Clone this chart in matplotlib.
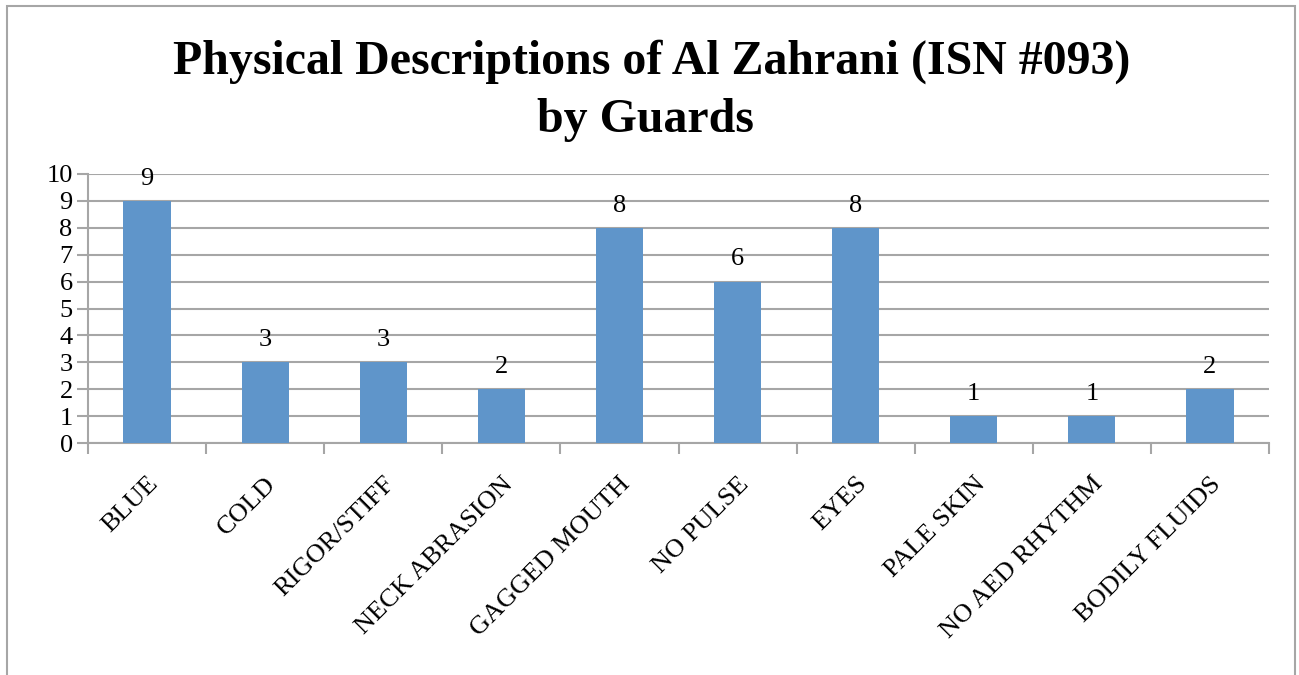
import matplotlib
matplotlib.use("Agg")
import matplotlib.pyplot as plt
from matplotlib.patches import Rectangle
from matplotlib.transforms import ScaledTranslation

categories = ["BLUE", "COLD", "RIGOR/STIFF", "NECK ABRASION", "GAGGED MOUTH",
              "NO PULSE", "EYES", "PALE SKIN", "NO AED RHYTHM", "BODILY FLUIDS"]
values = [9, 3, 3, 2, 8, 6, 8, 1, 1, 2]
yticks = list(range(0, 11))

title_line1 = "Physical Descriptions of Al Zahrani (ISN #093)"
title_line2 = "by Guards"

plt.rcParams['font.family'] = ['Liberation Serif', 'DejaVu Serif']

W, H = 1299, 675
fig = plt.figure(figsize=(W / 100, H / 100), dpi=100)
fig.patch.set_facecolor("white")

gray = "#a6a6a6"
bar_color = "#5f95ca"
fs = 19

# outer border (bottom edge cropped in reference)
fig.add_artist(Rectangle((7 / W, -0.05), (1295 - 7) / W, (H - 6) / H + 0.05,
                         transform=fig.transFigure, fill=False,
                         edgecolor=gray, linewidth=1.5))

ax = fig.add_axes([88 / W, (H - 443) / H, (1269 - 88) / W, (443 - 174) / H])
x = list(range(len(categories)))
ax.bar(x, values, width=0.4, color=bar_color, zorder=3)

ax.set_xlim(-0.5, len(categories) - 0.5)
ax.set_ylim(0, 10)
ax.set_yticks(yticks)
ax.set_yticklabels([str(t) for t in yticks], fontsize=fs)
ax.yaxis.grid(True, color=gray, linewidth=1.5, zorder=0)
ax.set_axisbelow(True)

# category boundaries as ticks
ax.set_xticks([i - 0.5 for i in range(len(categories) + 1)], minor=False)
ax.set_xticklabels([])
ax.set_xticks(x, minor=True)
labels = ax.set_xticklabels(categories, minor=True, rotation=45, ha='right',
                            va='top', rotation_mode='anchor', fontsize=fs)
shift = ScaledTranslation(-9 / 100, 0, fig.dpi_scale_trans)
for lab in labels:
    lab.set_transform(lab.get_transform() + shift)
ax.tick_params(axis='x', which='minor', length=0, pad=21.5)
ax.tick_params(axis='x', which='major', length=8, width=1.5, color=gray)
ax.tick_params(axis='y', length=8, width=1.5, color=gray, pad=3)

for s in ['top', 'right']:
    ax.spines[s].set_visible(False)
for s in ['left', 'bottom']:
    ax.spines[s].set_color(gray)
    ax.spines[s].set_linewidth(1.5)

for xi, v in zip(x, values):
    ax.annotate(str(v), (xi, v), xytext=(0, 8), textcoords='offset points',
                ha='center', va='bottom', fontsize=fs)

fig.text(652 / W, 1 - 74 / H, title_line1, ha='center', va='baseline',
         fontsize=34.5, fontweight='bold')
fig.text(645 / W, 1 - 132 / H, title_line2, ha='center', va='baseline',
         fontsize=34.5, fontweight='bold')

fig.savefig("out.png", dpi=100, facecolor="white")
